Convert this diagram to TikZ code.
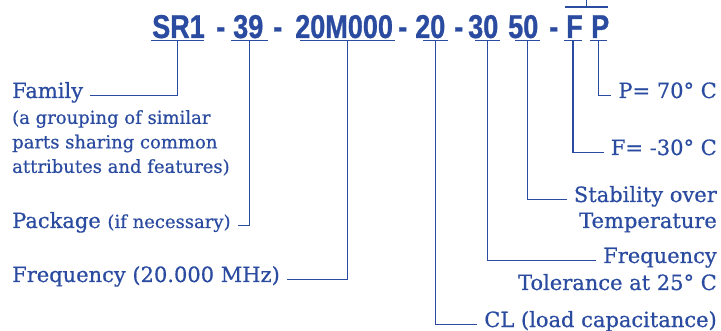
\documentclass[tikz,border=0pt]{standalone}
\usepackage{fontspec}
\usepackage{tikz}
\usetikzlibrary{positioning}
\setmainfont{DejaVu Serif}[FakeBold=0.6]
\newfontfamily\codefont{Liberation Sans}[FakeStretch=0.82,FakeBold=0.8]
\definecolor{partblue}{HTML}{2A4B9F}
\tikzset{
  ln/.style={draw=partblue,line width=1.6pt},
  code/.style={font=\codefont\bfseries\fontsize{33}{33}\selectfont,text=partblue,inner sep=0pt,anchor=base west},
  lbl/.style={font=\fontsize{21}{24}\selectfont,text=partblue,inner xsep=7pt,inner ysep=0pt},
  note/.style={font=\fontsize{18}{24.5}\selectfont,text=partblue,inner xsep=7pt,inner ysep=0pt,align=left}
}
% segment of the part number: name, x of text, text, underline from, underline to
\newcommand{\partseg}[5]{%
  \node[code] (#1) at (#2,38) {#3};
  \draw[ln] (#4,40.5) -- (#5,40.5);
  \coordinate (#1u) at ({(#4+#5)/2},40.5);}

\begin{document}
\begin{tikzpicture}[x=1pt,y=-1pt]
\useasboundingbox (0,0) rectangle (721,331);
% part number
\partseg{sr}{152}{SR1}{151}{204}
\partseg{pk}{233}{39}{231}{268}
\partseg{fq}{295}{20M000}{300}{395}
\partseg{cl}{415}{20}{423}{448}
\partseg{tl}{468}{30}{475}{500}
\partseg{st}{508}{50}{515}{540}
\partseg{lo}{566}{F}{564}{582}
\partseg{hi}{591}{P}{590}{607}
\node[code] (d1) at (216,38) {-};
\node[code] (d2) at (273,38) {-};
\node[code] (d3) at (398,38) {-};
\node[code] (d4) at (454,38) {-};
\node[code] (d5) at (549,38) {-};
\coordinate (fpbar) at (586.5,7);
\draw[ln] (565,7) -- (608,7);
\draw[ln] (fpbar) -- ++(0,-7);
% left labels
\node[lbl,anchor=base west] (family) at (5,98) {Family};
\node[note,below=12pt of family.base west,anchor=north west] (famnote) {(a grouping of similar\\parts sharing common\\attributes and features)};
\node[lbl,anchor=base west] (package) at (5,228) {Package {\fontsize{18}{20}\selectfont(if necessary)}};
\node[lbl,anchor=base west] (freq) at (5,282) {Frequency (20.000 MHz)};
% right labels
\node[lbl,anchor=base east] (high) at (724,98) {P= 70° C};
\node[lbl,anchor=base east] (low) at (724,155) {F= -30° C};
\node[lbl,anchor=base east] (stab) at (724,202) {Stability over};
\node[lbl,below=26pt of stab.base east,anchor=base east] (stabnote) {Temperature};
\node[lbl,anchor=base east] (tol) at (724,263) {Frequency};
\node[lbl,below=27pt of tol.base east,anchor=base east] (tolnote) {Tolerance at 25° C};
\node[lbl,anchor=base east] (load) at (724,327) {CL (load capacitance)};
% connectors
\draw[ln] (sru) |- (family.mid east);
\draw[ln] (pku) |- (package.mid east);
\draw[ln] (fqu) |- (freq.mid east);
\draw[ln] (clu) |- (load.mid west);
\draw[ln] (tlu) |- (tol.mid west);
\draw[ln] (stu) |- (stab.mid west);
\draw[ln] (lou) |- (low.mid west);
\draw[ln] (hiu) |- (high.mid west);
\end{tikzpicture}
\end{document}
